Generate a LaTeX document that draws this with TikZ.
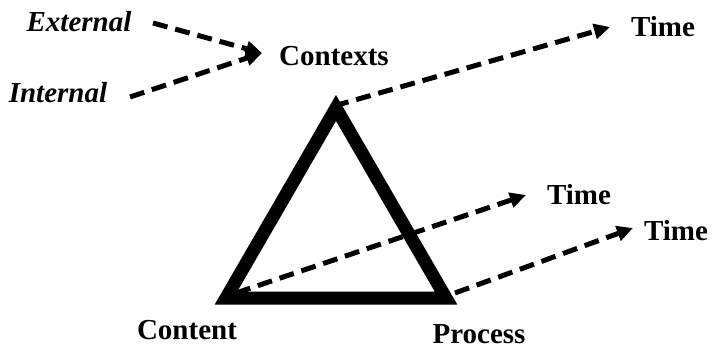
\documentclass[tikz,border=0pt]{standalone}
\usepackage{fontspec}
\setmainfont{Liberation Serif}
\usetikzlibrary{arrows.meta}
\begin{document}
\begin{tikzpicture}[x=1pt,y=-1pt,
  lbl/.style={font=\fontsize{29}{32}\selectfont\bfseries, inner sep=2pt},
  ilbl/.style={lbl, font=\fontsize{29}{32}\selectfont\bfseries\itshape},
  dasharrow/.style={line width=5pt, dash pattern=on 15pt off 8pt,
    -{Triangle[length=16pt,width=15pt]}},
  tri/.style={line width=13pt, line join=miter}]
  \useasboundingbox (0,0) rectangle (721,351);

  % labels
  \node[ilbl] (ext) at (79,22) {External};
  \node[ilbl] (int) at (58,93) {Internal};
  \node[lbl] (ctx) at (334,56) {Contexts};
  \node[lbl] (t1) at (663,27) {Time};
  \node[lbl] (t2) at (579,195) {Time};
  \node[lbl] (t3) at (676,231) {Time};
  \node[lbl] (con) at (187,330) {Content};
  \node[lbl, inner sep=0pt, anchor=base] (pro) at (479,343) {Process};

  % triangle corners
  \coordinate (A) at (336,108);
  \coordinate (B) at (226,298);
  \coordinate (C) at (446,298);

  % arrow start and tip points
  \coordinate (extS) at (153,23);
  \coordinate (intS) at (130,97);
  \coordinate (ctxT) at (262,53);
  \coordinate (aS) at (334,106);
  \coordinate (t1T) at (610,27);
  \coordinate (bS) at (236,293);
  \coordinate (t2T) at (526,195);
  \coordinate (cS) at (455,293);
  \coordinate (t3T) at (633,228);

  \draw[tri] (A) -- (B) -- (C) -- cycle;

  \draw[dasharrow] (extS) -- (ctxT);
  \draw[dasharrow] (intS) -- (ctxT);
  \draw[dasharrow] (aS) -- (t1T);
  \draw[dasharrow] (bS) -- (t2T);
  \draw[dasharrow] (cS) -- (t3T);
\end{tikzpicture}
\end{document}
